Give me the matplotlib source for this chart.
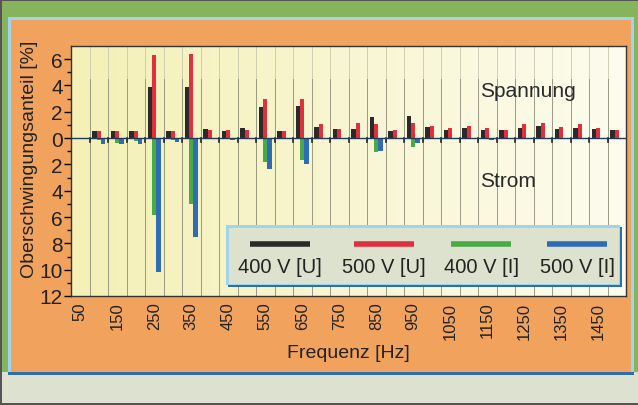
import matplotlib
matplotlib.use("Agg")
import matplotlib.pyplot as plt
from matplotlib.patches import Rectangle
from matplotlib.lines import Line2D
import numpy as np

plt.rcParams['font.family'] = ['Liberation Sans', 'DejaVu Sans']

# data
freq = [50, 100, 150, 200, 250, 300, 350, 400, 450, 500,
        550, 600, 650, 700, 750, 800, 850, 900, 950, 1000,
        1050, 1100, 1150, 1200, 1250, 1300, 1350, 1400, 1450, 1500]
u400 = [0, 0.55, 0.55, 0.55, 3.9, 0.55, 3.9, 0.7, 0.55, 0.75,
        2.35, 0.55, 2.45, 0.85, 0.7, 0.73, 1.6, 0.55, 1.7, 0.85,
        0.65, 0.78, 0.63, 0.65, 0.78, 0.9, 0.73, 0.8, 0.68, 0.58]
u500 = [0, 0.55, 0.55, 0.55, 6.3, 0.55, 6.4, 0.65, 0.6, 0.65,
        3.0, 0.55, 3.0, 1.05, 0.7, 1.18, 1.1, 0.6, 1.15, 0.95,
        0.8, 0.95, 0.75, 0.65, 1.05, 1.18, 0.83, 1.1, 0.78, 0.65]
i400 = [0, 0.15, 0.35, 0.25, 5.85, 0.15, 5.0, 0.05, 0, 0,
        1.8, 0, 1.7, 0, 0, 0, 1.08, 0, 0.7, 0,
        0, 0, 0, 0, 0, 0, 0, 0, 0, 0]
i500 = [0, 0.45, 0.45, 0.45, 10.2, 0.3, 7.5, 0.05, 0.15, 0.05,
        2.35, 0.05, 1.95, 0.05, 0.05, 0.05, 0.95, 0.05, 0.35, 0.05,
        0.05, 0.05, 0.12, 0.05, 0.05, 0.05, 0.05, 0.05, 0.05, 0.05]
labels = ["400 V [U]", "500 V [U]", "400 V [I]", "500 V [I]"]
colors = ["#2a2a2a", "#e0303e", "#4aaa46", "#2e6cb6"]
yticks = [6, 4, 2, 0, -2, -4, -6, -8, -10, -12]

W, H = 638, 406
fig = plt.figure(figsize=(W / 100, H / 100), dpi=100, facecolor="#dde2d0")

def box(x0, y0, x1, y1, c, z=-5):
    # pixel box, y from top
    fig.patches.append(Rectangle((x0 / W, 1 - y1 / H), (x1 - x0) / W, (y1 - y0) / H,
                                 transform=fig.transFigure, color=c, lw=0, zorder=z))

box(0, 0, W, 373, "#86b45c")      # green frame
box(8, 18, 634, 376, "#9fd3ee")   # light blue edge
box(8, 373, 634, 376, "#2f6ea8")  # dark blue bottom line
box(11, 21, 631, 373, "#f1a35e")  # orange panel
box(0, 0, W, 1.5, "#555555")
box(0, 0, 1.5, H, "#555555")
box(0, H - 2, W, H, "#555555")

ax = fig.add_axes([71 / W, 1 - 297 / H, 555 / W, 250 / H])
x = np.arange(len(freq))
ax.set_xlim(-0.5, len(freq) - 0.5)
ax.set_ylim(-12, 7)

# yellow to white background
grad = np.linspace(0, 1, 256).reshape(1, -1)
cmap = matplotlib.colors.LinearSegmentedColormap.from_list("bg", ["#f4f0b6", "#fdfcee"])
ax.imshow(grad, extent=[-0.5, len(freq) - 0.5, -12, 7], aspect="auto", cmap=cmap, zorder=0)

for b in np.arange(0.5, len(freq) - 0.5, 1):
    ax.plot([b, b], [4.5, 7], color="#c8c8b0", lw=0.6, zorder=1)
    ax.plot([b, b], [-12, 4.5], color="#8a8a78", lw=0.6, zorder=1)
    ax.plot([b, b], [0, -0.3], color="#222222", lw=1.2, zorder=4)

w = 0.24
ax.bar(x - w, u400, w, color=colors[0], zorder=3)
ax.bar(x, u500, w, color=colors[1], zorder=3)
ax.bar(x, -np.array(i400), w, color=colors[2], zorder=3)
ax.bar(x + w, -np.array(i500), w, color=colors[3], zorder=3)
ax.axhline(0, color="#1f3a5a", lw=1.0, zorder=4)

ax.set_yticks(yticks)
ax.set_yticklabels([str(abs(v)) for v in yticks], fontsize=15, color="#222222")
ax.set_yticks(np.arange(-11, 7, 2), minor=True)
ax.tick_params(axis="y", which="major", length=5, width=1, pad=1)
ax.tick_params(axis="y", which="minor", length=3, width=1)
ax.set_xticks(x[::2])
ax.set_xticklabels([str(f) for f in freq[::2]], rotation=90, fontsize=12, color="#222222")
ax.tick_params(axis="x", length=0, pad=4)
for s in ax.spines.values():
    s.set_color("#333333")
    s.set_linewidth(1.0)

ax.set_ylabel("Oberschwingungsanteil [%]", fontsize=14, color="#222222", labelpad=2)
ax.yaxis.set_label_coords(-0.059, 0.552)
ax.set_xlabel("Frequenz [Hz]", fontsize=14, color="#222222", labelpad=4)

ax.text(21.6, 3.6, "Spannung", fontsize=15, color="#2a2a2a", va="center", zorder=5)
ax.text(21.6, -3.2, "Strom", fontsize=15, color="#2a2a2a", va="center", zorder=5)

# legend box drawn by hand (line sample above text)
box(228, 228, 622, 288, "#2f6ea8", z=10)
box(226, 226, 620, 286, "#9fd3ee", z=10)
box(229, 229, 619, 285, "#dde2cf", z=10)
centers = [280, 384, 481, 577]
for cx, lab, c in zip(centers, labels, colors):
    fig.lines.append(Line2D([(cx - 30) / W, (cx + 30) / W], [1 - 245 / H] * 2,
                            transform=fig.transFigure, color=c, lw=4,
                            solid_capstyle="butt", zorder=11))
    fig.text(cx / W, 1 - 268 / H, lab, ha="center", va="center", fontsize=14.5,
             color="#222222", zorder=11)

fig.savefig("out.png", dpi=100, facecolor=fig.get_facecolor())
